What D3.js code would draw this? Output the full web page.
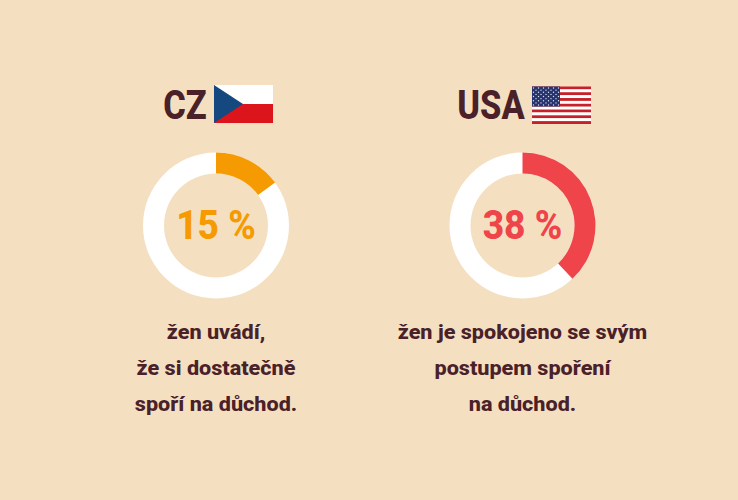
<!DOCTYPE html>
<html><head><meta charset="utf-8">
<script src="https://cdn.jsdelivr.net/npm/d3@7"></script>
<style>
html,body{margin:0;padding:0;background:#f4e0c1}
svg{display:block}
text{font-family:Roboto,sans-serif;font-weight:800;text-anchor:middle}
</style></head><body>
<div id="chart"></div>
<script>
const countries = ["CZ", "USA"];
const shares = [15, 38];
const shareColors = ["#f59a00", "#ef444a"];
const captions = [
  ["žen uvádí,", "že si dostatečně", "spoří na důchod."],
  ["žen je spokojeno se svým", "postupem spoření", "na důchod."]
];
const width = 738, height = 500;
const ink = "#4a2129";

const svg = d3.select("#chart").append("svg").attr("width", width).attr("height", height);
svg.append("rect").attr("width", width).attr("height", height).attr("fill", "#f4e0c1");

const centerX = d3.scalePoint().domain(countries).range([216, 522.5]);
const centerY = 225.5;
const angle = d3.scaleLinear().domain([0, 100]).range([0, 2 * Math.PI]);
const ring = d3.arc().innerRadius(52).outerRadius(73);

// Squeezes a centred label horizontally, the face used here runs a little wide
function label(parent, x, y, size, squeeze, fill, str) {
  return parent.append("text")
    .attr("transform", `translate(${x},${y}) scale(${squeeze},1)`)
    .attr("font-size", size).attr("fill", fill).text(str);
}

countries.forEach((name, i) => {
  const g = svg.append("g").attr("transform", `translate(${centerX(name)},${centerY})`);
  g.append("path").attr("d", ring({startAngle: 0, endAngle: 2 * Math.PI})).attr("fill", "#fff");
  g.append("path").attr("d", ring({startAngle: 0, endAngle: angle(shares[i])})).attr("fill", shareColors[i]);
  label(g, 0, 13.5, 40, 0.93, shareColors[i], `${shares[i]} %`);
  captions[i].forEach((line, j) => {
    label(g, 0, 113.5 + j * 36, 21, 1.03, ink, line);
  });
});

// Country headings
label(svg, 185, 119, 40, 0.86, ink, "CZ");
label(svg, 491, 119, 40, 0.86, ink, "USA");

// Czech flag
const cz = svg.append("g").attr("transform", "translate(214,85)");
cz.append("rect").attr("width", 59).attr("height", 19).attr("fill", "#fff");
cz.append("rect").attr("y", 19).attr("width", 59).attr("height", 19).attr("fill", "#dc141c");
cz.append("path").attr("d", "M0,0L29,19L0,38Z").attr("fill", "#14487f");

// US flag
const us = svg.append("g").attr("transform", "translate(532,86.5)");
const stripeIndex = d3.range(13);
const stripeY = d3.scaleBand().domain(stripeIndex).range([0, 37.5]);
us.selectAll("rect.stripe").data(stripeIndex).join("rect").attr("class", "stripe")
  .attr("y", d => stripeY(d)).attr("width", 59).attr("height", stripeY.bandwidth())
  .attr("fill", d => d % 2 ? "#fff" : "#c8202a");
us.append("rect").attr("width", 28).attr("height", 20).attr("fill", "#25346f");
const starRows = d3.range(9), starCols = d3.range(11);
const starY = d3.scalePoint().domain(starRows).range([1.5, 18.5]);
const starX = d3.scalePoint().domain(starCols).range([1.5, 26.5]);
starRows.forEach(r => starCols.filter(c => (c + r) % 2 === 0).forEach(c => {
  us.append("circle").attr("cx", starX(c)).attr("cy", starY(r)).attr("r", 0.7).attr("fill", "#dfe3f0");
}));
</script></body></html>
